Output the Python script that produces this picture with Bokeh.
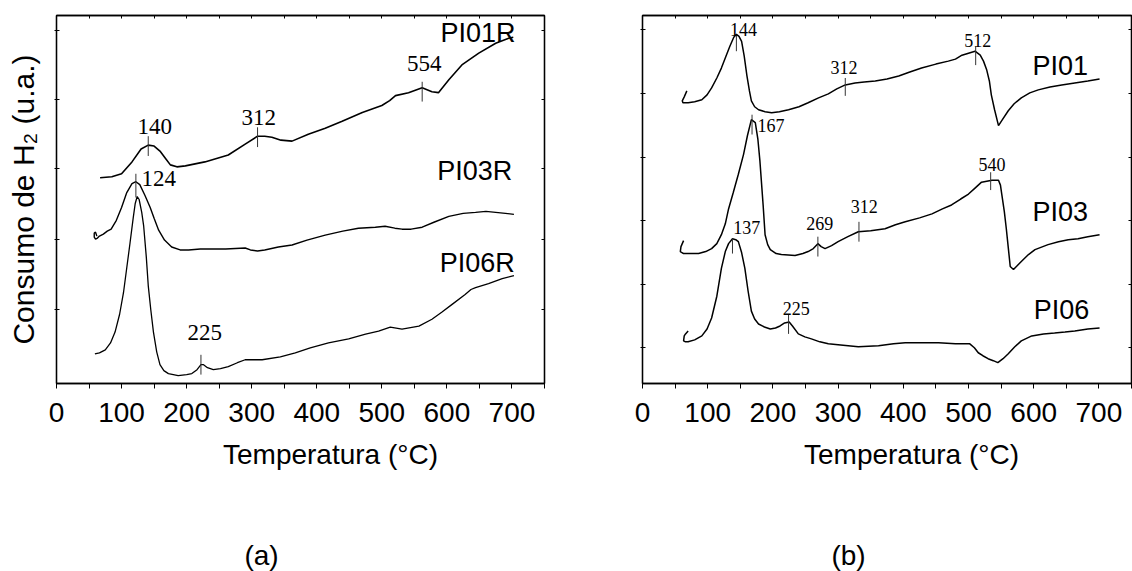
from bokeh.plotting import figure
from bokeh.layouts import column, row
from bokeh.models import Range1d, FixedTicker, LinearAxis
from bokeh.core.properties import value
from bokeh.embed import file_html
from bokeh.resources import INLINE

# ---------------- data (temperature in °C, signal in arbitrary units) ----------------
x_major = [0, 100, 200, 300, 400, 500, 600, 700]
x_minor = [50, 150, 250, 350, 450, 550, 650, 750]

# Panel (a)
pi01r_T = [67, 85, 100, 116, 130, 141, 150, 159, 167, 175, 185, 198, 228, 264, 290, 309, 320, 331, 345, 362,
           387, 413, 439, 470, 500, 512, 521, 541, 562, 577, 587, 603, 623, 649, 675, 695, 702]
pi01r_y = [20.8, 20.9, 21.2, 22.4, 23.7, 24.1, 24.0, 23.5, 22.8, 22.1, 21.9, 22.0, 22.4, 23.1, 24.2, 25.0, 25.0,
           24.9, 24.6, 24.5, 25.2, 25.8, 26.5, 27.4, 28.1, 28.6, 29.1, 29.4, 29.9, 29.5, 29.4, 30.7, 32.2, 33.4,
           34.4, 34.9, 35.0]

pi03r_T = [62, 60, 58, 58, 60, 63, 66, 72, 78, 84, 92, 100, 108, 116, 122, 128, 136, 144, 150, 157, 166, 177,
           190, 203, 221, 260, 290, 298, 309, 320, 341, 362, 385, 413, 440, 464, 490, 505, 520, 531, 545, 562,
           580, 603, 625, 644, 660, 675, 690, 703]
pi03r_y = [14.9, 15.3, 15.2, 14.8, 14.6, 14.7, 14.9, 15.1, 15.4, 15.6, 16.5, 17.8, 19.3, 20.2, 20.4, 20.1, 19.0,
           17.8, 16.7, 15.5, 14.5, 13.8, 13.5, 13.5, 13.6, 13.6, 13.7, 13.5, 13.4, 13.5, 13.8, 14.0, 14.5, 15.0,
           15.4, 15.7, 15.8, 15.9, 15.7, 15.6, 15.6, 15.8, 16.3, 16.9, 17.2, 17.3, 17.4, 17.3, 17.2, 17.1]

pi06r_T = [59, 66, 75, 83, 90, 97, 103, 108, 113, 118, 121, 124, 127, 131, 134, 138, 141, 145, 149, 154, 159, 165,
           172, 187, 200, 208, 216, 222, 226, 232, 241, 252, 264, 278, 290, 316, 344, 367, 390, 418, 449, 475,
           495, 513, 531, 557, 577, 592, 608, 628, 637, 644, 664, 685, 703]
pi06r_y = [3.0, 3.1, 3.4, 4.1, 5.2, 7.0, 9.2, 11.7, 14.2, 16.8, 18.2, 18.9, 18.6, 17.3, 15.9, 12.8, 9.9, 7.4, 5.2,
           3.2, 1.9, 1.3, 1.0, 0.8, 0.9, 1.0, 1.4, 1.9, 1.9, 1.6, 1.4, 1.5, 1.7, 2.1, 2.4, 2.4, 2.7, 3.1, 3.6,
           4.1, 4.5, 5.0, 5.3, 5.7, 5.5, 5.8, 6.5, 7.2, 8.0, 9.0, 9.5, 9.7, 10.1, 10.6, 10.9]

a_mark_T = [141, 309, 562, 122, 222]
a_mark_y0 = [23.0, 23.9, 28.5, 18.8, 0.9]
a_mark_y1 = [25.0, 25.9, 30.5, 21.2, 2.9]
a_peak_text = ["140", "312", "554", "124", "225"]
a_peak_T = [151, 311, 565, 157, 228]
a_peak_y = [26.0, 26.9, 32.3, 20.7, 5.2]

a_names = ["PI01R", "PI03R", "PI06R"]
a_name_T = [590, 585, 589]
a_name_y = [35.4, 21.5, 12.2]

# Panel (b)
pi01_T = [68, 64, 61, 62, 70, 80, 91, 99, 106, 114, 121, 128, 134, 140, 144, 148, 152, 156, 160, 164, 167, 172,
          178, 188, 198, 210, 224, 240, 254, 270, 285, 298, 311, 326, 340, 357, 375, 393, 410, 428, 450, 469,
          480, 490, 500, 510, 518, 523, 528, 532, 535, 540, 546, 552, 561, 570, 581, 594, 607, 625, 643, 663,
          683, 701]
pi01_y = [29.5, 28.9, 28.5, 28.3, 28.3, 28.4, 28.6, 29.1, 29.8, 30.8, 31.8, 33.0, 34.0, 34.9, 35.2, 35.0, 34.5,
          33.0, 31.1, 29.5, 28.5, 27.9, 27.6, 27.4, 27.3, 27.4, 27.6, 27.9, 28.3, 28.8, 29.2, 29.7, 30.1, 30.3,
          30.4, 30.5, 30.7, 31.0, 31.4, 31.8, 32.2, 32.5, 32.7, 33.1, 33.3, 33.5, 33.1, 32.5, 31.6, 30.5, 29.1,
          27.6, 26.0, 26.6, 27.5, 28.2, 28.8, 29.3, 29.6, 29.9, 30.1, 30.3, 30.5, 30.7]

pi03_T = [63, 59, 58, 63, 75, 86, 97, 106, 114, 121, 127, 132, 139, 147, 155, 161, 167, 173, 177, 180, 183, 185,
          188, 192, 196, 205, 213, 234, 246, 254, 262, 269, 274, 280, 290, 300, 315, 331, 350, 372, 388, 403,
          425, 444, 460, 474, 488, 500, 510, 520, 528, 536, 546, 549, 551, 555, 558, 561, 564, 569, 575, 581,
          592, 602, 622, 638, 653, 668, 683, 701]
pi03_y = [14.4, 13.8, 13.3, 13.1, 13.1, 13.1, 13.3, 13.6, 14.1, 15.0, 16.1, 17.6, 19.2, 21.1, 23.1, 25.0, 26.6,
          26.3, 24.6, 22.5, 19.8, 18.0, 15.0, 14.0, 13.5, 13.1, 13.0, 12.9, 13.1, 13.3, 13.6, 14.1, 13.8, 13.6,
          13.9, 14.3, 14.8, 15.3, 15.4, 15.6, 16.0, 16.3, 16.7, 17.1, 17.6, 18.0, 18.6, 19.1, 19.7, 20.3, 20.4,
          20.5, 20.5, 20.0, 19.1, 17.3, 15.6, 13.7, 11.8, 11.5, 11.9, 12.3, 13.0, 13.5, 14.0, 14.3, 14.5, 14.6,
          14.8, 15.0]

pi06_T = [70, 66, 64, 63, 66, 70, 80, 91, 99, 106, 114, 121, 127, 132, 138, 143, 147, 152, 157, 162, 167, 172,
          178, 187, 196, 204, 211, 218, 225, 230, 239, 249, 259, 272, 285, 300, 331, 362, 385, 403, 430, 454,
          480, 502, 509, 515, 522, 530, 538, 545, 553, 561, 571, 581, 597, 615, 632, 648, 663, 683, 701]
pi06_y = [5.3, 5.0, 4.8, 4.3, 4.2, 4.2, 4.4, 4.8, 5.5, 6.6, 8.8, 11.6, 13.3, 14.1, 14.6, 14.5, 14.3, 13.2, 11.6,
          9.3, 7.3, 6.5, 6.0, 5.7, 5.5, 5.6, 5.8, 6.1, 6.2, 5.8, 5.0, 4.7, 4.5, 4.2, 4.0, 3.9, 3.7, 3.8, 4.0,
          4.1, 4.1, 4.1, 4.0, 4.0, 3.6, 3.1, 2.8, 2.5, 2.3, 2.1, 2.5, 3.0, 3.7, 4.3, 4.8, 5.0, 5.1, 5.2, 5.3,
          5.5, 5.6]

b_mark_T = [144, 311, 511, 168, 534, 332, 269, 138, 224]
b_mark_y0 = [33.5, 29.0, 32.1, 25.1, 19.5, 14.3, 12.8, 13.1, 5.0]
b_mark_y1 = [35.1, 30.8, 34.0, 27.1, 21.3, 16.3, 14.8, 14.6, 7.0]
b_peak_text = ["144", "312", "512", "167", "540", "312", "269", "137", "225"]
b_peak_T = [155, 309, 514, 197, 536, 340, 272, 160, 236]
b_peak_y = [35.7, 31.9, 34.6, 26.0, 22.1, 17.8, 16.1, 15.7, 7.6]

b_names = ["PI01", "PI03", "PI06"]
b_name_T = [598, 598, 600]
b_name_y = [32.0, 17.3, 7.4]

# ---------------- styling ----------------
SANS = "Liberation Sans"
SERIF = "Liberation Serif"
TOP_H = 438


def make_panel(width, mbl, mbr, mbt, mbb, ymax, yticks):
    p = figure(width=width, height=TOP_H, x_range=Range1d(0, 750), y_range=Range1d(0, ymax),
               output_backend="svg", toolbar_location=None, title=None,
               min_border_left=mbl, min_border_right=mbr, min_border_top=mbt, min_border_bottom=mbb)
    p.grid.visible = False
    p.outline_line_color = "black"
    p.outline_line_width = 1.3
    p.background_fill_color = "white"
    p.border_fill_color = "white"

    xt = FixedTicker(ticks=x_major, minor_ticks=x_minor)
    yt = FixedTicker(ticks=yticks, minor_ticks=[])

    xa = p.xaxis[0]
    xa.ticker = xt
    xa.axis_line_width = 1.3
    xa.axis_line_color = "black"
    xa.major_tick_line_color = "black"
    xa.minor_tick_line_color = "black"
    xa.major_tick_in = 0
    xa.major_tick_out = 5
    xa.minor_tick_in = 0
    xa.minor_tick_out = 5
    xa.major_label_standoff = 14
    xa.major_label_text_font = SANS
    xa.major_label_text_font_size = "28px"
    xa.major_label_text_color = "black"

    ya = p.yaxis[0]
    ya.ticker = yt
    ya.axis_line_width = 1.3
    ya.axis_line_color = "black"
    ya.major_tick_line_color = "black"
    ya.major_tick_in = 3
    ya.major_tick_out = 2
    ya.minor_tick_line_color = None
    ya.major_label_text_font_size = "1px"
    ya.major_label_text_color = None
    ya.major_label_standoff = 0

    top = LinearAxis(ticker=xt, major_label_text_font_size="1px", major_label_text_color=None,
                     major_label_standoff=0, major_tick_in=3, major_tick_out=0, minor_tick_in=3,
                     minor_tick_out=0, axis_line_width=1.3)
    p.add_layout(top, "above")
    right = LinearAxis(ticker=yt, major_label_text_font_size="1px", major_label_text_color=None,
                       major_label_standoff=0, major_tick_in=3, major_tick_out=0,
                       minor_tick_line_color=None, axis_line_width=1.3)
    p.add_layout(right, "right")
    return p


# ---- panel (a)
a_yticks = [7.5, 14.55, 21.7, 28.75, 35.7]
p1 = make_panel(560, 56, 16, 15, 51, 37.2, a_yticks)
p1.yaxis[0].axis_label = "Consumo de H₂ (u.a.)"
p1.yaxis[0].axis_label_text_font = SANS
p1.yaxis[0].axis_label_text_font_style = "normal"
p1.yaxis[0].axis_label_text_font_size = "30px"
p1.yaxis[0].axis_label_text_color = "black"
p1.yaxis[0].axis_label_standoff = 15

for T, y, w in [(pi01r_T, pi01r_y, 1.6), (pi03r_T, pi03r_y, 1.4), (pi06r_T, pi06r_y, 1.3)]:
    p1.line(T, y, line_color="black", line_width=w)
p1.segment(x0=a_mark_T, y0=a_mark_y0, x1=a_mark_T, y1=a_mark_y1, line_color="#333333", line_width=1)
p1.text(x=a_peak_T, y=a_peak_y, text=a_peak_text, text_font=value(SERIF), text_font_size="23px",
        text_align="center", text_baseline="middle", text_color="black")
p1.text(x=a_name_T, y=a_name_y, text=a_names, text_font=value(SANS), text_font_size="27px",
        text_align="left", text_baseline="middle", text_color="black")

# ---- panel (b)
b_yticks = [3.6, 10.0, 16.4, 22.8, 29.25, 35.7]
p2 = make_panel(572, 82, 1, 12, 55, 37.1, b_yticks)
for T, y in [(pi01_T, pi01_y), (pi03_T, pi03_y), (pi06_T, pi06_y)]:
    p2.line(T, y, line_color="black", line_width=1.5)
p2.segment(x0=b_mark_T, y0=b_mark_y0, x1=b_mark_T, y1=b_mark_y1, line_color="#333333", line_width=1)
p2.text(x=b_peak_T, y=b_peak_y, text=b_peak_text, text_font=value(SERIF), text_font_size="18px",
        text_align="center", text_baseline="middle", text_color="black")
p2.text(x=b_name_T, y=b_name_y, text=b_names, text_font=value(SANS), text_font_size="27px",
        text_align="left", text_baseline="middle", text_color="black")

# ---- captions below
cap_text = ["Temperatura (°C)", "Temperatura (°C)", "(a)", "(b)"]
cap_x = [330, 911, 261, 848]
cap_y = [117, 117, 16, 16]
b = figure(width=1132, height=571 - TOP_H, x_range=Range1d(0, 1132), y_range=Range1d(0, 571 - TOP_H),
           output_backend="svg", toolbar_location=None, title=None, min_border=0,
           x_axis_location=None, y_axis_location=None)
b.grid.visible = False
b.outline_line_color = None
b.text(x=cap_x, y=cap_y, text=cap_text, text_font=value(SANS), text_font_size="28px",
       text_align="center", text_baseline="middle", text_color="black")

layout = column(row(p1, p2), b)
open("out.html", "w").write(file_html(layout, INLINE))
